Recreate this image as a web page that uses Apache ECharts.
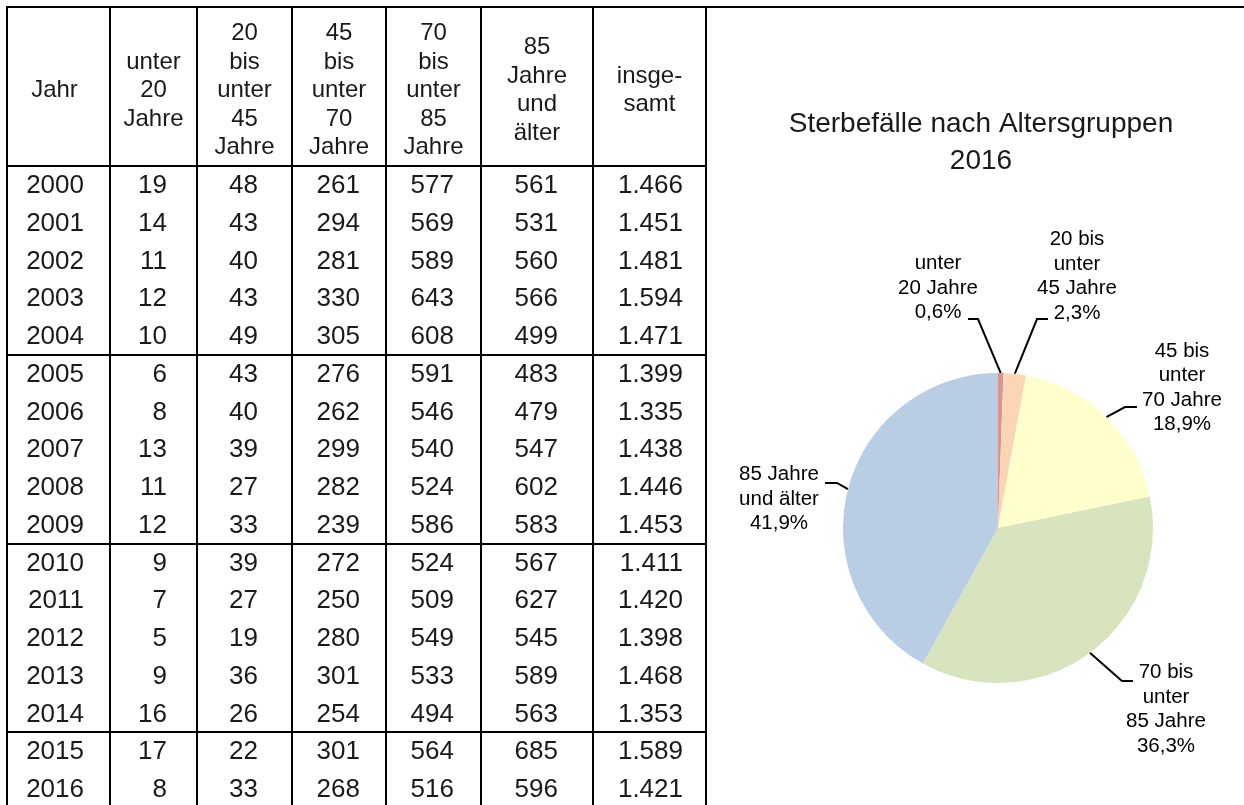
<!DOCTYPE html>
<html><head><meta charset="utf-8">
<script src="https://cdn.jsdelivr.net/npm/echarts@6/dist/echarts.min.js"></script>
<style>html,body{margin:0;padding:0;background:#fff}#c{width:1244px;height:805px}</style>
</head><body><div id="c"></div>
<script>
// ---------- DATA ----------
const years   = [2000, 2001, 2002, 2003, 2004, 2005, 2006, 2007, 2008, 2009, 2010, 2011, 2012, 2013, 2014, 2015, 2016];
const under20 = [19, 14, 11, 12, 10, 6, 8, 13, 11, 12, 9, 7, 5, 9, 16, 17, 8];
const age20to45 = [48, 43, 40, 43, 49, 43, 40, 39, 27, 33, 39, 27, 19, 36, 26, 22, 33];
const age45to70 = [261, 294, 281, 330, 305, 276, 262, 299, 282, 239, 272, 250, 280, 301, 254, 301, 268];
const age70to85 = [577, 569, 589, 643, 608, 591, 546, 540, 524, 586, 524, 509, 549, 533, 494, 564, 516];
const age85plus = [561, 531, 560, 566, 499, 483, 479, 547, 602, 583, 567, 627, 545, 589, 563, 685, 596];
const totals  = [1466, 1451, 1481, 1594, 1471, 1399, 1335, 1438, 1446, 1453, 1411, 1420, 1398, 1468, 1353, 1589, 1421];
const headers = ['Jahr', 'unter\n20\nJahre', '20\nbis\nunter\n45\nJahre', '45\nbis\nunter\n70\nJahre', '70\nbis\nunter\n85\nJahre', '85\nJahre\nund\nälter', 'insge-\nsamt'];
const pieTitle = 'Sterbefälle nach Altersgruppen\n2016';
const pieYear = 2016;
const pieNames = ['unter\n20 Jahre', '20 bis\nunter\n45 Jahre', '45 bis\nunter\n70 Jahre', '70 bis\nunter\n85 Jahre', '85 Jahre\nund älter'];
const pieColors = ['#d99494', '#fcd5b5', '#ffffcc', '#d8e4bd', '#b9cde5'];

// ---------- LAYOUT ----------
const FONT = 'Liberation Sans';
const colEdges = [7, 110, 197, 292, 386, 481, 593, 706];
const colRight = [84, 167, 258, 360, 454, 558, 683];
const headShift = [-4, 0, 0, 0, 0, 0, 0];
const tableTop = 7, headBottom = 166, rowH = 37.75, groupSize = 5, pageH = 805, pageW = 1244;
const pieCenter = [998, 528], pieRadius = 155;
// label centre offsets from pie centre, and leader line end offsets from label centre
const labelPos = [
  { dx: -60, dy: -240, ex: 30, ey: 31, bend: 10 },
  { dx: 79, dy: -251.5, ex: -29, ey: 42.5, bend: -11 },
  { dx: 184, dy: -140, ex: -45, ey: 19, bend: -12 },
  { dx: 168, dy: 181.5, ex: -33, ey: -28.5, bend: -11 },
  { dx: -219, dy: -29, ex: 46, ey: -16, bend: 12 }
];

function fmtDe(n) { return n >= 1000 ? Math.floor(n / 1000) + '.' + String(n % 1000).padStart(3, '0') : String(n); }

const columns = [years, under20, age20to45, age45to70, age70to85, age85plus, totals.map(fmtDe)];
const graphics = [];
function hline(y, x1, x2) { graphics.push({ type: 'line', silent: true, shape: { x1, y1: y, x2, y2: y }, style: { stroke: '#000', lineWidth: 2 } }); }
function vline(x, y1, y2) { graphics.push({ type: 'line', silent: true, shape: { x1: x, y1, x2: x, y2 }, style: { stroke: '#000', lineWidth: 2 } }); }
function addText(x, y, t, size, lh, align) {
  graphics.push({ type: 'text', silent: true, x, y, style: { text: String(t), fontFamily: FONT, fontSize: size, lineHeight: lh, fill: '#1a1a1a', align: align, verticalAlign: 'middle' } });
}
hline(tableTop, colEdges[0] - 1, pageW);
hline(headBottom, colEdges[0] - 1, colEdges[colEdges.length - 1] + 1);
for (let g = groupSize; g < years.length; g += groupSize) {
  hline(Math.round(headBottom + g * rowH), colEdges[0] - 1, colEdges[colEdges.length - 1] + 1);
}
colEdges.forEach(x => vline(x, tableTop - 1, pageH));
headers.forEach((h, c) => {
  const cx = (colEdges[c] + colEdges[c + 1]) / 2 + headShift[c];
  addText(cx, (tableTop + headBottom) / 2 + 4, h, 24, 28.5, 'center');
});
columns.forEach((col, c) => {
  col.forEach((v, r) => addText(colRight[c], headBottom + rowH * (r + 0.5) + 1, v, 26, 30, 'right'));
});
graphics.push({ type: 'text', silent: true, x: 981, y: 142.5, style: { text: pieTitle, fontFamily: FONT, fontSize: 28, lineHeight: 37, fill: '#1a1a1a', align: 'center', verticalAlign: 'middle' } });

const yi = years.indexOf(pieYear);
const pieValues = [under20[yi], age20to45[yi], age45to70[yi], age70to85[yi], age85plus[yi]];
const pieSum = pieValues.reduce((a, b) => a + b, 0);

const chart = echarts.init(document.getElementById('c'), null, { renderer: 'canvas' });
chart.setOption({
  animation: false,
  graphic: graphics,
  series: [{
    type: 'pie',
    center: pieCenter,
    radius: pieRadius,
    startAngle: 90,
    clockwise: true,
    avoidLabelOverlap: false,
    percentPrecision: 1,
    emphasis: { disabled: true },
    itemStyle: { borderWidth: 0 },
    data: pieNames.map((n, i) => ({ name: n, value: pieValues[i], itemStyle: { color: pieColors[i] } })),
    label: {
      show: true, position: 'outside', color: '#000', fontFamily: 'Liberation Sans', fontSize: 20.5, lineHeight: 24.5, align: 'center',
      formatter: p => p.name + '\n' + p.percent.toFixed(1).replace('.', ',') + '%'
    },
    labelLine: { show: true, lineStyle: { color: '#000', width: 2 } },
    labelLayout: function (params) {
      const i = params.dataIndex;
      const L = labelPos[i];
      const lx = pieCenter[0] + L.dx, ly = pieCenter[1] + L.dy;
      let p0;
      if (params.labelLinePoints && params.labelLinePoints[0]) {
        p0 = params.labelLinePoints[0];
      } else {
        let before = 0; for (let k = 0; k < i; k++) before += pieValues[k];
        const ang = (90 - (before + pieValues[i] / 2) / pieSum * 360) * Math.PI / 180;
        p0 = [pieCenter[0] + pieRadius * Math.cos(ang), pieCenter[1] - pieRadius * Math.sin(ang)];
      }
      const end = [lx + L.ex, ly + L.ey];
      const bend = [end[0] + L.bend, end[1]];
      return { x: lx, y: ly, align: 'center', verticalAlign: 'middle', labelLinePoints: [p0, bend, end] };
    }
  }]
});
</script>
</body></html>
